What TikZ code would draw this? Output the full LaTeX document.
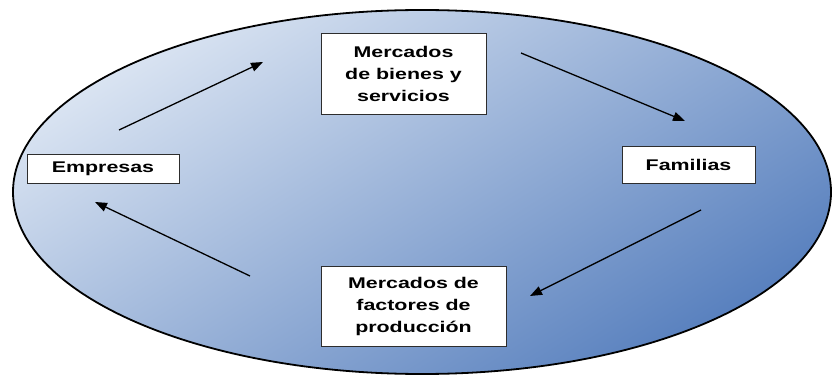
\documentclass[tikz,border=0pt]{standalone}
\usepackage{fontspec}
\setmainfont{Liberation Sans}
\usetikzlibrary{arrows.meta}
\usetikzlibrary{positioning}
\usepackage{xcolor}
\definecolor{flowLight}{RGB}{218,228,242}
\definecolor{flowDark}{RGB}{88,128,190}
\definecolor{boxGrey}{RGB}{45,45,45}

\tikzset{
    market/.style={draw=boxGrey, line width=0.9pt, fill=white, align=center, inner sep=0pt,
        xscale=1.38, transform shape, font=\fontsize{15.5}{22}\selectfont\bfseries},
    flow/.style={-{Triangle[length=12pt,width=9pt]}, line width=1.3pt}
}

\begin{document}
\begin{tikzpicture}[x=1pt, y=-1pt]
        \useasboundingbox (0,0) rectangle (833,377);
        \draw [line width=1.8pt, shading=axis, top color=flowLight, bottom color=flowDark, shading angle=32]
            (422,192) ellipse [x radius=409, y radius=182];
        % the four boxes
        \node [market, minimum width=119.6pt, minimum height=81pt] (bienes) at (403.5,73.5) {Mercados\\de bienes y\\servicios};
        \node [market, minimum width=110.1pt, minimum height=29pt] (empresas) at (103,168.5) {Empresas};
        \node [market, minimum width=96.4pt, minimum height=37pt] (familias) at (688.5,164.5) {Familias};
        \node [market, minimum width=134pt, minimum height=80pt] (factores) at (413.5,306) {Mercados de\\factores de\\producción};
        % free ends of the flows
        \coordinate (empOut) at (119,130);
        \coordinate (bienesIn) at (263,62);
        \coordinate (bienesOut) at (521,53);
        \coordinate (famIn) at (685,121);
        \coordinate (famOut) at (701,210);
        \coordinate (factIn) at (530,296);
        \coordinate (factOut) at (250,276);
        \coordinate (empIn) at (95,202);
        \foreach \a/\b in {empOut/bienesIn, bienesOut/famIn, famOut/factIn, factOut/empIn} {\draw [flow] (\a) -- (\b);};
    \end{tikzpicture}
\end{document}
